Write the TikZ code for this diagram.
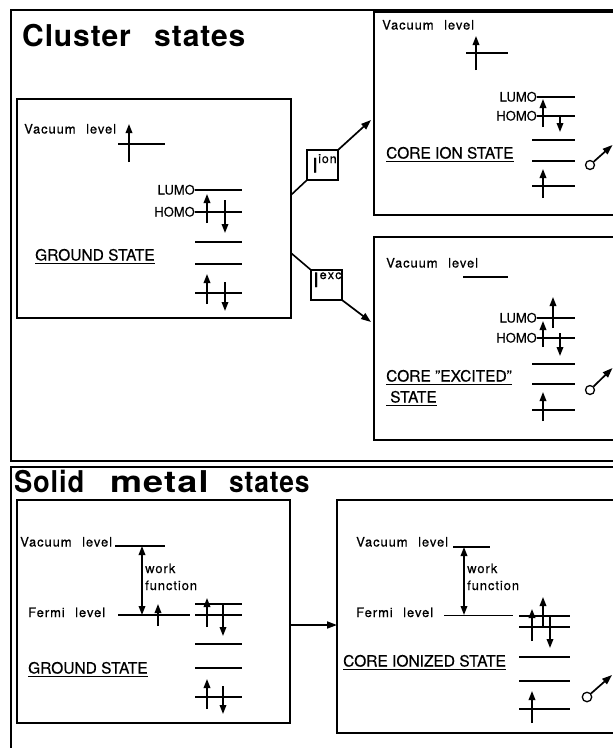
\documentclass[tikz,border=0pt]{standalone}
\usepackage{fontspec}
\setmainfont{TeX Gyre Heros}[FakeBold=0.4]
\newfontfamily\spfont{TeX Gyre Heros}[LetterSpace=7,FakeBold=0.4]
\newfontfamily\ttlfont{TeX Gyre Heros Bold}[LetterSpace=3]
\usetikzlibrary{arrows.meta}

\tikzset{
  frame/.style={draw, line width=1.1pt, inner sep=0pt, outer sep=0pt, anchor=north west},
  box/.style={draw, line width=1.4pt, inner sep=0pt, outer sep=0pt, anchor=north west},
  ibox/.style={draw, line width=1.4pt, inner sep=0pt, outer sep=0pt, minimum width=31pt, minimum height=30pt},
  lvl/.style={line width=1.6pt},
  uline/.style={line width=1.2pt},
  spin/.style={line width=1.7pt, -{Triangle[length=9pt,width=6.5pt]}},
  dbl/.style={line width=1.7pt, {Triangle[length=9pt,width=6.5pt]}-{Triangle[length=9pt,width=6.5pt]}},
  conn/.style={line width=1.6pt},
  trans/.style={line width=1.7pt, -{Triangle[length=10pt,width=7pt]}},
  elec/.style={draw, circle, line width=1.3pt, minimum size=9pt, inner sep=0pt},
  lbl/.style={font=\fontsize{13}{15}\spfont, inner sep=0pt, anchor=base west},
  orblbl/.style={font=\fontsize{13}{15}\selectfont, inner sep=0pt, anchor=base east},
  statelbl/.style={font=\fontsize{15.5}{18}\selectfont, inner sep=0pt, anchor=base west},
  bigI/.style={font=\fontsize{20}{22}\selectfont, inner sep=0pt, anchor=base west},
  supI/.style={font=\fontsize{12.5}{14}\spfont, inner sep=0pt, anchor=base west},
  ttl/.style={font=\fontsize{30}{34}\ttlfont, inner sep=0pt, anchor=base west},
}

\begin{document}
\begin{tikzpicture}[x=1pt,y=-1pt]
\useasboundingbox (0,0) rectangle (613,748);
\clip (0,0) rectangle (613,748);
\fill[white] (0,0) rectangle (613,748);

% ---------- section frames ----------
\node[frame, minimum width=640pt, minimum height=451pt] (fc) at (11,10) {};
\node[frame, minimum width=640pt, minimum height=300pt] (fs) at (11,467) {};

\node[ttl] (tc1) at (22,46.5) {Cluster};
\node[ttl] (tc2) at (154,46.5) {states};
\node[ttl] (ts1) at (14,492) {\scalebox{0.91}[1]{Solid}};
\node[ttl] (ts2) at (110,492) {\scalebox{1.2}[1]{metal}};
\node[ttl] (ts3) at (229,492) {\scalebox{0.88}[1]{states}};

% ================= CLUSTER: ground state =================
\node[box, minimum width=274pt, minimum height=219pt] (cg) at (17,99) {};
\node[lbl] (cgv) at (24,133.5) {Vacuum\hspace{6pt} level};
\draw[lvl] (118,144) -- (165,144);
\draw[spin] (129,162) -- (129,124);
\node[orblbl] (cgl) at (195,194.5) {LUMO};
\node[orblbl] (cgh) at (195,216.5) {HOMO};
\draw[lvl] (195,190) -- (242,190);
\draw[lvl] (195,212) -- (242,212);
\draw[spin] (207,223) -- (207,194);
\draw[spin] (225,200) -- (225,233);
\draw[lvl] (195,242) -- (242,242);
\draw[lvl] (195,264) -- (242,264);
\draw[lvl] (195,293) -- (242,293);
\draw[spin] (207,304) -- (207,274);
\draw[spin] (225,282) -- (225,311);
\node[statelbl] (cgs) at (35,260.5) {GROUND STATE};
\draw[uline] ([yshift=-3pt]cgs.base west) -- ([yshift=-3pt]cgs.base east);

% ---------- transition boxes ----------
\node[ibox] (ion) at (322.5,165) {};
\node[bigI] (ionI) at (312,172.5) {I};
\node[supI] (ions) at (318,163) {ion};
\node[ibox] (exc) at (326.5,285) {};
\node[bigI] (excI) at (313,287) {I};
\node[supI, font=\fontsize{12.5}{14}\spfont\addfontfeature{LetterSpace=12}] (excs) at (319.5,279) {exc};

\coordinate (g1) at (291,195);
\coordinate (g2) at (291,253);
\coordinate (t1) at (371,120);
\coordinate (t2) at (371,322);
\draw[conn] (g1) -- (ion.south west);
\draw[trans] (ion.north east) -- (t1);
\draw[conn] (g2) -- (exc.north west);
\draw[trans] (exc.south east) -- (t2);

% ================= CLUSTER: core ion state =================
\node[box, minimum width=266pt, minimum height=203pt] (ci) at (374,12) {};
\node[lbl] (civ) at (382,29.5) {Vacuum\hspace{6pt} level};
\draw[lvl] (466,53) -- (508,53);
\draw[spin] (476,70) -- (476,36);
\node[orblbl] (cil) at (537,101.5) {LUMO};
\node[orblbl] (cih) at (537,120.5) {HOMO};
\draw[lvl] (537,97) -- (575,97);
\draw[lvl] (537,116) -- (575,116);
\draw[spin] (543,127) -- (543,99);
\draw[spin] (560,115) -- (560,132);
\draw[lvl] (532,140) -- (575,140);
\draw[lvl] (532,161) -- (575,161);
\draw[lvl] (532,186) -- (575,186);
\draw[spin] (543,198) -- (543,169);
\node[statelbl] (cis) at (386,158.5) {CORE ION STATE};
\draw[uline] ([yshift=-3pt]cis.base west) -- ([yshift=-3pt]cis.base east);
\node[elec] (e1) at (590,165) {};
\coordinate (e1t) at (612.5,145);
\draw[trans] (e1) -- (e1t);

% ================= CLUSTER: core excited state =================
\node[box, minimum width=266pt, minimum height=203pt] (ce) at (374,237) {};
\node[lbl] (cev) at (386,267.5) {Vacuum\hspace{6pt} level};
\draw[lvl] (463,277) -- (508,277);
\node[orblbl] (cel) at (537,322.5) {LUMO};
\node[orblbl] (ceh) at (537,342.5) {HOMO};
\draw[lvl] (537,318) -- (575,318);
\draw[lvl] (537,338) -- (575,338);
\draw[spin] (553,328) -- (553,297);
\draw[spin] (543,347) -- (543,321);
\draw[spin] (560,333) -- (560,356);
\draw[lvl] (532,364) -- (575,364);
\draw[lvl] (532,384) -- (575,384);
\draw[lvl] (532,410) -- (575,410);
\draw[spin] (543,421) -- (543,392);
\node[statelbl] (ces1) at (386,381.5) {CORE "EXCITED"};
\draw[uline] ([yshift=-3pt]ces1.base west) -- ([yshift=-3pt]ces1.base east);
\node[statelbl] (ces2) at (386,402.5) {\hspace*{4pt}STATE};
\draw[uline] ([yshift=-3pt]ces2.base west) -- ([yshift=-3pt]ces2.base east);
\node[elec] (e2) at (590,390) {};
\coordinate (e2t) at (612.5,368);
\draw[trans] (e2) -- (e2t);

% ================= SOLID: ground state =================
\node[box, minimum width=273pt, minimum height=223pt] (sg) at (17,500) {};
\node[lbl] (sgv) at (20,546.5) {Vacuum\hspace{6pt} level};
\draw[lvl] (115,546) -- (165,546);
\draw[dbl] (142,546) -- (142,615);
\node[lbl] (sgw1) at (145,573) {work};
\node[lbl] (sgw2) at (145,590) {function};
\node[lbl] (sgf) at (28,617) {Fermi\hspace{6pt} level};
\draw[lvl] (118,615) -- (190,615);
\draw[spin] (158,626) -- (158,604);
\draw[lvl] (195,604) -- (242,604);
\draw[lvl] (195,615) -- (242,615);
\draw[spin] (207,627) -- (207,598);
\draw[spin] (223,604) -- (223,636);
\draw[lvl] (195,644) -- (242,644);
\draw[lvl] (195,668) -- (242,668);
\draw[lvl] (195,697) -- (242,697);
\draw[spin] (207,709) -- (207,679);
\draw[spin] (223,686) -- (223,714);
\node[statelbl] (sgs) at (28,673.5) {GROUND STATE};
\draw[uline] ([yshift=-3pt]sgs.base west) -- ([yshift=-3pt]sgs.base east);

% ================= SOLID: core ionized state =================
\node[box, minimum width=303pt, minimum height=233pt] (sc) at (337,500) {};
\draw[trans] ([yshift=-13.5pt]sg.east) -- ([yshift=-8.5pt]sc.west);
\node[lbl] (scv) at (356,546.5) {Vacuum\hspace{6pt} level};
\draw[lvl] (453,547) -- (490,547);
\draw[dbl] (464,547) -- (464,615);
\node[lbl] (scw1) at (467,573) {work};
\node[lbl] (scw2) at (467,590) {function};
\node[lbl] (scf) at (356,617) {Fermi\hspace{6pt} level};
\draw[lvl] (444,615.5) -- (513,615.5);
\draw[lvl] (519,616) -- (570,616);
\draw[lvl] (519,627) -- (570,627);
\draw[spin] (532,641) -- (532,609);
\draw[spin] (543,627) -- (543,597);
\draw[spin] (550,616) -- (550,648);
\draw[lvl] (519,657) -- (570,657);
\draw[lvl] (519,681) -- (570,681);
\draw[lvl] (519,709) -- (570,709);
\draw[spin] (532,723) -- (532,691);
\node[statelbl] (scs) at (343,666.5) {CORE IONIZED STATE};
\draw[uline] ([yshift=-3pt]scs.base west) -- ([yshift=-3pt]scs.base east);
\node[elec, minimum size=9.5pt] (e3) at (587,697) {};
\coordinate (e3t) at (612,675);
\draw[trans] (e3) -- (e3t);
\end{tikzpicture}
\end{document}
